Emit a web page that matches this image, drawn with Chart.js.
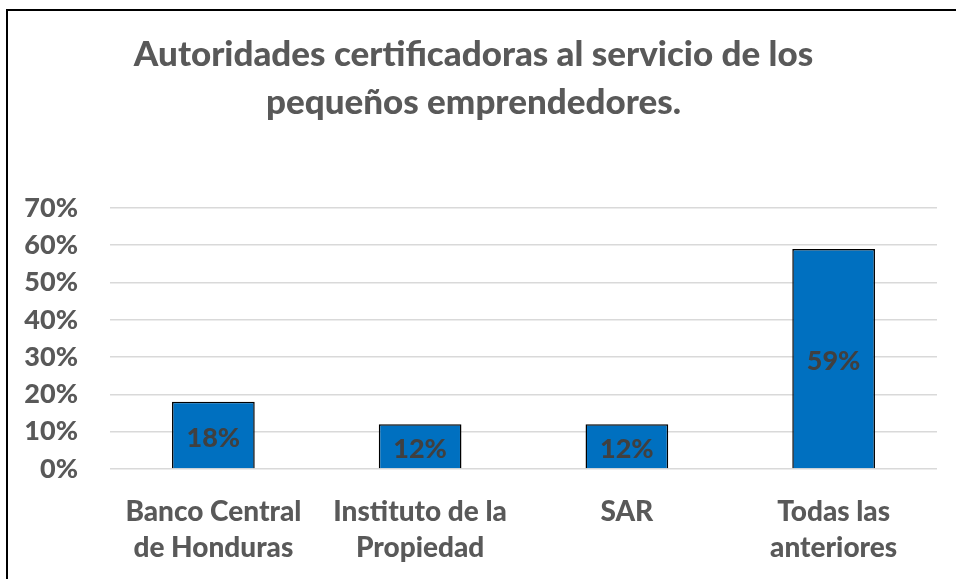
<!DOCTYPE html>
<html>
<head>
<meta charset="utf-8">
<script src="https://cdn.jsdelivr.net/npm/chart.js@4.4.1/dist/chart.umd.min.js"></script>
<style>
  html, body { margin:0; padding:0; background:#fff; }
  #wrap { position:relative; width:956px; height:579px; overflow:hidden; }
  #frame { position:absolute; left:6px; top:9px; width:1000px; height:1000px;
           border-top:2px solid #000; border-left:2px solid #000; }
  #c { position:absolute; left:0; top:0; }
</style>
</head>
<body>
<div id="wrap">
  <div id="frame"></div>
  <canvas id="c" width="956" height="579"></canvas>
</div>
<script>
// chart data
const titleLines = ['Autoridades certificadoras al servicio de los', 'pequeños emprendedores.'];
const categories = [
  ['Banco Central', 'de Honduras'],
  ['Instituto de la', 'Propiedad'],
  ['SAR'],
  ['Todas las', 'anteriores']
];
const values = [0.18, 0.12, 0.12, 0.59];
const yMax = 0.7;
const yStep = 0.1;

const FONT = 'Lato, "Open Sans", sans-serif';
const GREY = '#595959';
const WEIGHT = '900';

// data labels, centred inside each bar
const barLabels = {
  id: 'barLabels',
  afterDatasetsDraw(chart){
    const ctx = chart.ctx;
    const meta = chart.getDatasetMeta(0);
    ctx.save();
    ctx.font = `${WEIGHT} 27px ${FONT}`;
    ctx.fillStyle = '#404040';
    ctx.textAlign = 'center';
    ctx.textBaseline = 'middle';
    meta.data.forEach((bar, i) => {
      const v = values[i];
      const y = (bar.y + bar.base) / 2;
      ctx.fillText(Math.round(v * 100) + '%', bar.x, y + 3);
    });
    ctx.restore();
  }
};

new Chart(document.getElementById('c'), {
  type: 'bar',
  data: {
    labels: categories,
    datasets: [{
      data: values,
      backgroundColor: '#0070C0',
      borderColor: '#000',
      borderWidth: 1.5,
      borderSkipped: 'bottom',
      categoryPercentage: 1,
      barPercentage: 0.4
    }]
  },
  options: {
    responsive: false,
    animation: false,
    devicePixelRatio: 1,
    layout: { padding: { left: 10, right: 19, top: 31, bottom: 0 } },
    plugins: {
      legend: { display: false },
      tooltip: { enabled: false },
      title: {
        display: true,
        text: titleLines,
        color: GREY,
        font: { family: FONT, size: 35, weight: WEIGHT, lineHeight: 1.37 },
        padding: { top: 0, bottom: 81 }
      }
    },
    scales: {
      x: {
        grid: { display: false, drawTicks: false },
        border: { display: false },
        ticks: {
          color: GREY,
          font: { family: FONT, size: 28, weight: WEIGHT, lineHeight: 1.32 },
          padding: 24,
          maxRotation: 0,
          autoSkip: false
        },
        afterFit(scale){ scale.height = 110; }
      },
      y: {
        min: 0,
        max: yMax,
        grid: { color: '#d9d9d9', lineWidth: 1.5, drawTicks: false },
        border: { display: false },
        ticks: {
          stepSize: yStep,
          color: GREY,
          font: { family: FONT, size: 27, weight: WEIGHT },
          padding: 32,
          callback: v => Math.round(v * 100) + '%'
        },
        afterFit(scale){ scale.width = 100; }
      }
    }
  },
  plugins: [barLabels]
});
</script>
</body>
</html>
